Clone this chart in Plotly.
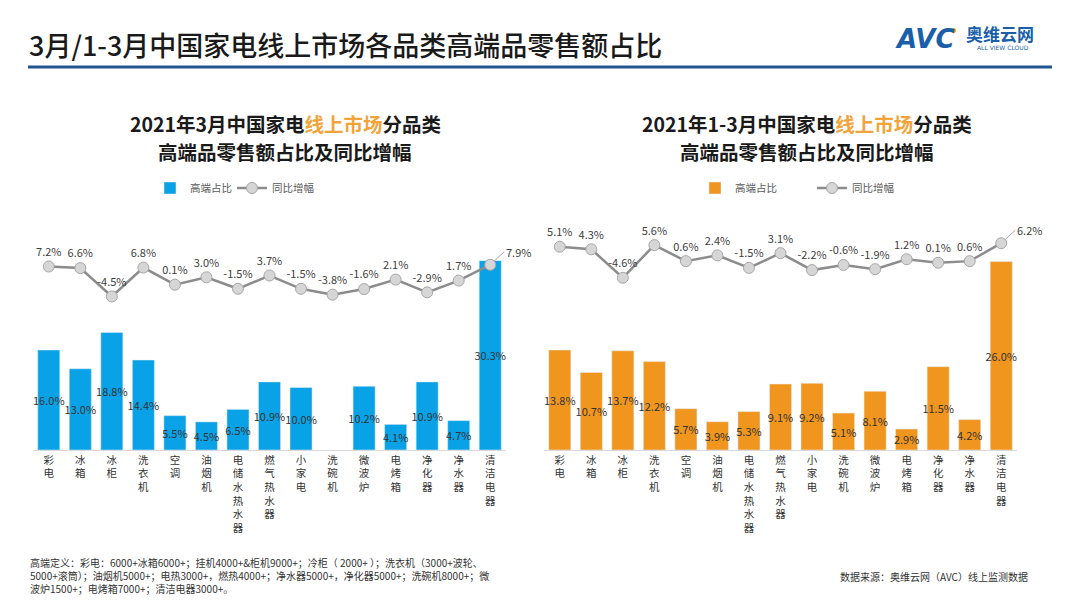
import plotly.graph_objects as go

# ---------------- data ----------------
categories = ["彩电", "冰箱", "冰柜", "洗衣机", "空调", "油烟机", "电储水热水器", "燃气热水器",
              "小家电", "洗碗机", "微波炉", "电烤箱", "净化器", "净水器", "清洁电器"]

mar_share = [16.0, 13.0, 18.8, 14.4, 5.5, 4.5, 6.5, 10.9, 10.0, None, 10.2, 4.1, 10.9, 4.7, 30.3]
mar_yoy = [7.2, 6.6, -4.5, 6.8, 0.1, 3.0, -1.5, 3.7, -1.5, -3.8, -1.6, 2.1, -2.9, 1.7, 7.9]

q1_share = [13.8, 10.7, 13.7, 12.2, 5.7, 3.9, 5.3, 9.1, 9.2, 5.1, 8.1, 2.9, 11.5, 4.2, 26.0]
q1_yoy = [5.1, 4.3, -4.6, 5.6, 0.6, 2.4, -1.5, 3.1, -2.2, -0.6, -1.9, 1.2, 0.1, 0.6, 6.2]

legend_names = ["高端占比", "同比增幅"]

main_title = "3月/1-3月中国家电线上市场各品类高端品零售额占比"
left_title_1 = "2021年3月中国家电<span style='color:#F2A33A'>线上市场</span>分品类"
right_title_1 = "2021年1-3月中国家电<span style='color:#F2A33A'>线上市场</span>分品类"
sub_title_2 = "高端品零售额占比及同比增幅"
footnote = ("高端定义：彩电：6000+冰箱6000+；挂机4000+&柜机9000+；冷柜（ 2000+ ）；洗衣机（3000+波轮、<br>"
            "5000+滚筒）；油烟机5000+；电热3000+，燃热4000+；净水器5000+，净化器5000+；洗碗机8000+；微<br>"
            "波炉1500+；电烤箱7000+；清洁电器3000+。")
source = "数据来源：奥维云网（AVC）线上监测数据"

# ---------------- style ----------------
W, H = 1080, 608
OFF = 8  # page body margin in the viewer
FONT = "Noto Sans CJK SC"
BLUE = "#0AA2E6"
ORANGE = "#F0961E"
LINE = "#8C8C8C"
MFILL = "#D6D6D6"


def px(x):
    return (x - OFF) / W


def py(y):
    return 1 - (y - OFF) / H


def pct(v):
    return "" if v is None else f"{v:.1f}%"


vertical = ["<br>".join(list(c)) for c in categories]

fig = go.Figure()

# left chart
fig.add_trace(go.Bar(
    x=categories, y=mar_share, name=legend_names[0], marker_color=BLUE,
    text=[pct(v) for v in mar_share], textposition="inside", insidetextanchor="middle",
    textangle=0, constraintext="none",
    textfont=dict(family=FONT, size=11, color="#333333"),
    xaxis="x", yaxis="y", legend="legend", cliponaxis=False))
fig.add_trace(go.Scatter(
    x=categories, y=mar_yoy, name=legend_names[1], mode="lines+markers+text",
    line=dict(color=LINE, width=2.5),
    marker=dict(size=11, color=MFILL, line=dict(color="#A6A6A6", width=1)),
    text=[pct(v) for v in mar_yoy[:-1]] + [""], textposition="top center",
    textfont=dict(family=FONT, size=11, color="#404040"),
    xaxis="x", yaxis="y2", legend="legend2", cliponaxis=False))

# right chart
fig.add_trace(go.Bar(
    x=categories, y=q1_share, name=legend_names[0], marker_color=ORANGE,
    text=[pct(v) for v in q1_share], textposition="inside", insidetextanchor="middle",
    textangle=0, constraintext="none",
    textfont=dict(family=FONT, size=11, color="#333333"),
    xaxis="x2", yaxis="y3", legend="legend3", cliponaxis=False))
fig.add_trace(go.Scatter(
    x=categories, y=q1_yoy, name=legend_names[1], mode="lines+markers+text",
    line=dict(color=LINE, width=2.5),
    marker=dict(size=11, color=MFILL, line=dict(color="#A6A6A6", width=1)),
    text=[pct(v) for v in q1_yoy[:-1]] + [""], textposition="top center",
    textfont=dict(family=FONT, size=11, color="#404040"),
    xaxis="x2", yaxis="y4", legend="legend4", cliponaxis=False))

ydom = [py(450), py(200)]
xaxis_common = dict(tickmode="array", tickvals=categories, ticktext=vertical,
                    tickfont=dict(family=FONT, size=10.5, color="#333333"),
                    range=[-0.5, len(categories) - 0.5], automargin=False,
                    showline=True, linecolor="#D9D9D9", linewidth=1, ticks="",
                    showgrid=False, fixedrange=True)
yaxis_common = dict(visible=False, showgrid=False, zeroline=False, fixedrange=True,
                    automargin=False)


def legend_at(x):
    return dict(orientation="h", x=px(x), y=py(188), xanchor="left", yanchor="middle",
                font=dict(family=FONT, size=10.5, color="#595959"),
                bgcolor="rgba(0,0,0,0)", itemwidth=30)


fig.update_layout(
    width=W, height=H, margin=dict(l=0, r=0, t=0, b=0, autoexpand=False),
    paper_bgcolor="white", plot_bgcolor="rgba(0,0,0,0)",
    font=dict(family=FONT, color="#333333"),
    bargap=0.3, showlegend=True,
    xaxis=dict(domain=[px(33), px(506)], anchor="y", **xaxis_common),
    yaxis=dict(domain=ydom, range=[0, 40], **yaxis_common),
    yaxis2=dict(domain=ydom, range=[-64.5, 33.2], overlaying="y", anchor="x", **yaxis_common),
    xaxis2=dict(domain=[px(544), px(1017)], anchor="y3", **xaxis_common),
    yaxis3=dict(domain=ydom, range=[0, 34.5], anchor="x2", **yaxis_common),
    yaxis4=dict(domain=ydom, range=[-58.4, 19.7], overlaying="y3", anchor="x2", **yaxis_common),
    legend=legend_at(150),
    legend2=legend_at(232),
    legend3=legend_at(695),
    legend4=legend_at(812),
)

annotations = [
    dict(text=main_title, x=px(27), y=py(45), xref="paper", yref="paper",
         xanchor="left", yanchor="middle", showarrow=False,
         font=dict(family=FONT, size=27, color="#1A1A1A", weight=500)),
    dict(text="<b><i>AVC</i></b>", x=px(893), y=py(39), xref="paper", yref="paper",
         xanchor="left", yanchor="middle", showarrow=False,
         font=dict(family="DejaVu Sans", size=26, color="#1B5FAA")),
    dict(text="<b>奥维云网</b>", x=px(964), y=py(34), xref="paper", yref="paper",
         xanchor="left", yanchor="middle", showarrow=False,
         font=dict(family=FONT, size=17, color="#1B5FAA")),
    dict(text="ALL VIEW CLOUD", x=px(975), y=py(48), xref="paper", yref="paper",
         xanchor="left", yanchor="middle", showarrow=False,
         font=dict(family="DejaVu Sans", size=6, color="#1B5FAA")),
    dict(text="<b>" + left_title_1 + "</b>", x=px(285), y=py(123), xref="paper", yref="paper",
         xanchor="center", yanchor="middle", showarrow=False,
         font=dict(family=FONT, size=19.5, color="#1A1A1A")),
    dict(text="<b>" + sub_title_2 + "</b>", x=px(285), y=py(151), xref="paper", yref="paper",
         xanchor="center", yanchor="middle", showarrow=False,
         font=dict(family=FONT, size=19.5, color="#1A1A1A")),
    dict(text="<b>" + right_title_1 + "</b>", x=px(807), y=py(123), xref="paper", yref="paper",
         xanchor="center", yanchor="middle", showarrow=False,
         font=dict(family=FONT, size=19.5, color="#1A1A1A")),
    dict(text="<b>" + sub_title_2 + "</b>", x=px(807), y=py(151), xref="paper", yref="paper",
         xanchor="center", yanchor="middle", showarrow=False,
         font=dict(family=FONT, size=19.5, color="#1A1A1A")),
    dict(text=footnote, x=px(28), y=py(575), xref="paper", yref="paper",
         xanchor="left", yanchor="middle", align="left", showarrow=False,
         font=dict(family=FONT, size=10, color="#333333")),
    dict(text=source, x=px(838), y=py(576), xref="paper", yref="paper",
         xanchor="left", yanchor="middle", showarrow=False,
         font=dict(family=FONT, size=10, color="#333333")),
    # leader-line labels for the last growth points
    dict(text=pct(mar_yoy[-1]), x=categories[-1], y=mar_yoy[-1], xref="x", yref="y2",
         ax=14, ay=-13, axref="pixel", ayref="pixel", showarrow=True, arrowhead=0,
         arrowcolor="#A6A6A6", arrowwidth=1, standoff=5, xanchor="left",
         font=dict(family=FONT, size=11, color="#404040")),
    dict(text=pct(q1_yoy[-1]), x=categories[-1], y=q1_yoy[-1], xref="x2", yref="y4",
         ax=14, ay=-13, axref="pixel", ayref="pixel", showarrow=True, arrowhead=0,
         arrowcolor="#A6A6A6", arrowwidth=1, standoff=5, xanchor="left",
         font=dict(family=FONT, size=11, color="#404040")),
]
fig.update_layout(annotations=annotations)

fig.add_shape(type="line", xref="paper", yref="paper", x0=px(28), x1=px(1052),
              y0=py(67), y1=py(67), line=dict(color="#22558F", width=3))
fig.add_shape(type="circle", xref="paper", yref="paper", x0=px(951), x1=px(956),
              y0=py(33), y1=py(28), fillcolor="#F39A1E", line=dict(width=0))

fig.write_html("out.html")
